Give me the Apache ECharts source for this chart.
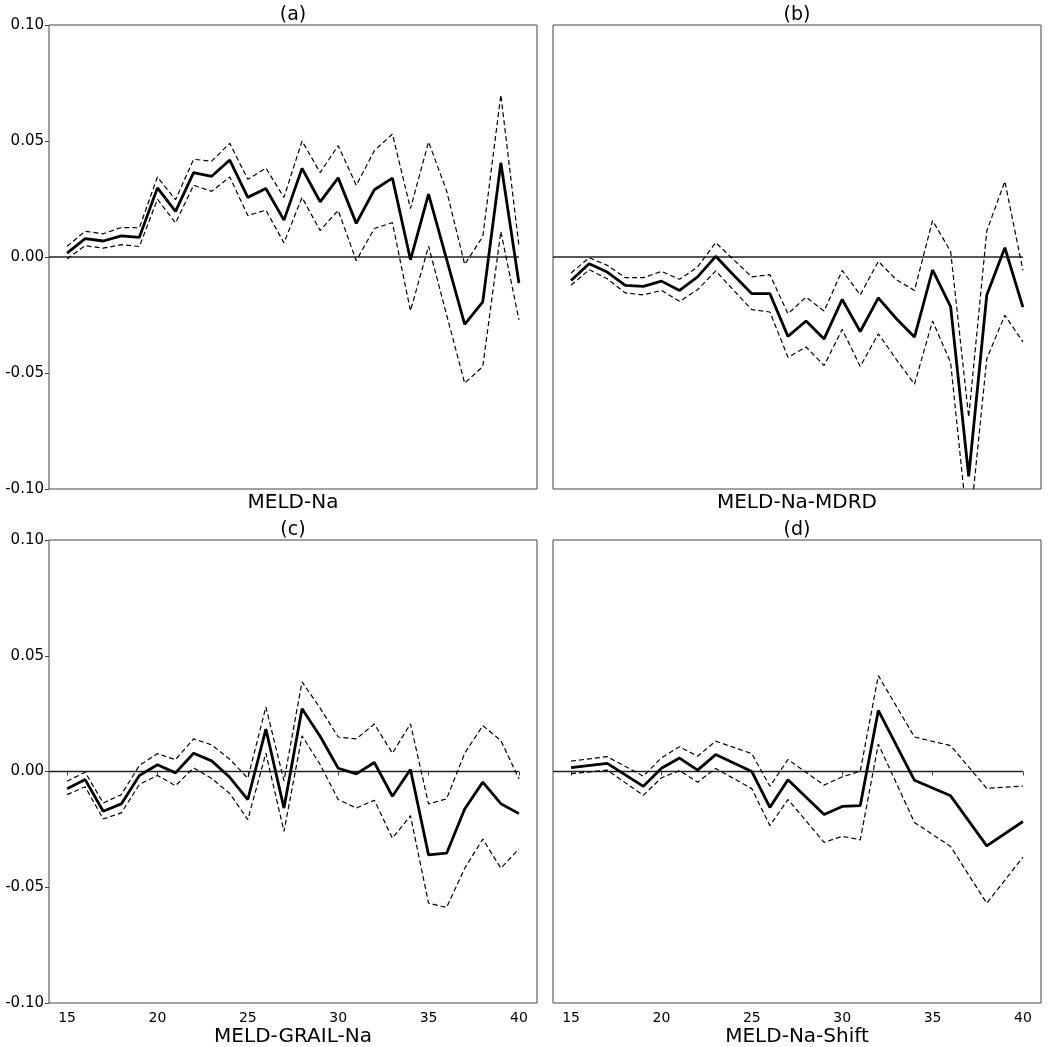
<!DOCTYPE html>
<html>
<head>
<meta charset="utf-8">
<script src="https://cdn.jsdelivr.net/npm/echarts@6/dist/echarts.min.js"></script>
<style>
  html, body { margin: 0; padding: 0; background: #fff; }
  #chart { width: 1050px; height: 1047px; }
</style>
</head>
<body>
<div id="chart"></div>
<script>
// x values (MELD score)
var xFull = [15, 16, 17, 18, 19, 20, 21, 22, 23, 24, 25, 26, 27, 28, 29, 30, 31, 32, 33, 34, 35, 36, 37, 38, 39, 40]
var xShift = [15, 17, 19, 20, 21, 22, 23, 25, 26, 27, 29, 30, 31, 32, 34, 36, 38, 40]
var xTicks = [15, 20, 25, 30, 35, 40]

// (a) MELD-Na
var naMid = [0.0017, 0.0079, 0.0069, 0.0091, 0.0085, 0.0298, 0.0197, 0.0364, 0.0348, 0.0418, 0.0257, 0.0295, 0.0159, 0.0382, 0.0238, 0.0341, 0.0145, 0.0290, 0.0340, -0.0012, 0.0271, -0.0010, -0.0290, -0.0193, 0.0406, -0.0112]
var naUp = [0.0046, 0.0111, 0.0100, 0.0127, 0.0126, 0.0345, 0.0247, 0.0421, 0.0413, 0.0490, 0.0335, 0.0383, 0.0257, 0.0500, 0.0364, 0.0480, 0.0309, 0.0458, 0.0530, 0.0209, 0.0496, 0.0285, -0.0032, 0.0088, 0.0699, 0.0048]
var naLo = [-0.0009, 0.0049, 0.0038, 0.0053, 0.0045, 0.0249, 0.0147, 0.0309, 0.0283, 0.0345, 0.0179, 0.0202, 0.0061, 0.0257, 0.0114, 0.0201, -0.0016, 0.0123, 0.0148, -0.0232, 0.0047, -0.0250, -0.0544, -0.0472, 0.0110, -0.0271]

// (b) MELD-Na-MDRD
var mdrdMid = [-0.0101, -0.0029, -0.0065, -0.0122, -0.0127, -0.0104, -0.0144, -0.0086, 0.0003, -0.0079, -0.0158, -0.0158, -0.0342, -0.0276, -0.0353, -0.0183, -0.0321, -0.0176, -0.0266, -0.0345, -0.0056, -0.0214, -0.0945, -0.0164, 0.0040, -0.0216]
var mdrdUp = [-0.0069, -0.0003, -0.0036, -0.0089, -0.0089, -0.0062, -0.0096, -0.0043, 0.0062, -0.0012, -0.0086, -0.0076, -0.0245, -0.0173, -0.0233, -0.0058, -0.0163, -0.0019, -0.0098, -0.0144, 0.0157, 0.0024, -0.0690, 0.0112, 0.0326, -0.0058]
var mdrdLo = [-0.0122, -0.0055, -0.0094, -0.0155, -0.0163, -0.0144, -0.0191, -0.0141, -0.0060, -0.0144, -0.0227, -0.0237, -0.0432, -0.0388, -0.0468, -0.0312, -0.0472, -0.0331, -0.0442, -0.0548, -0.0276, -0.0455, -0.1210, -0.0438, -0.0251, -0.0366]

// (c) MELD-GRAIL-Na
var grailMid = [-0.0074, -0.0035, -0.0172, -0.0140, -0.0017, 0.0029, -0.0006, 0.0079, 0.0046, -0.0025, -0.0121, 0.0183, -0.0158, 0.0271, 0.0152, 0.0014, -0.0010, 0.0039, -0.0107, 0.0009, -0.0360, -0.0353, -0.0162, -0.0046, -0.0139, -0.0182]
var grailUp = [-0.0042, -0.0003, -0.0136, -0.0100, 0.0026, 0.0077, 0.0051, 0.0141, 0.0115, 0.0053, -0.0029, 0.0279, -0.0040, 0.0387, 0.0274, 0.0149, 0.0141, 0.0205, 0.0079, 0.0206, -0.0140, -0.0118, 0.0079, 0.0198, 0.0134, -0.0032]
var grailLo = [-0.0100, -0.0066, -0.0205, -0.0179, -0.0056, -0.0017, -0.0061, 0.0016, -0.0030, -0.0095, -0.0208, 0.0079, -0.0259, 0.0154, 0.0030, -0.0121, -0.0158, -0.0124, -0.0288, -0.0191, -0.0569, -0.0587, -0.0418, -0.0292, -0.0418, -0.0334]

// (d) MELD-Na-Shift
var shiftMid = [0.0017, 0.0035, -0.0064, 0.0014, 0.0058, 0.0006, 0.0073, 0.0000, -0.0155, -0.0036, -0.0186, -0.0151, -0.0147, 0.0264, -0.0038, -0.0105, -0.0321, -0.0216]
var shiftUp = [0.0045, 0.0064, -0.0020, 0.0059, 0.0107, 0.0066, 0.0131, 0.0077, -0.0064, 0.0052, -0.0059, -0.0023, 0.0001, 0.0414, 0.0149, 0.0112, -0.0073, -0.0063]
var shiftLo = [-0.0009, 0.0006, -0.0103, -0.0027, 0.0004, -0.0046, 0.0013, -0.0074, -0.0234, -0.0121, -0.0306, -0.0280, -0.0295, 0.0118, -0.0220, -0.0324, -0.0569, -0.0370]

var FONT = 'DejaVu Sans'

function pairs (xs, ys) {
  return xs.map(function (x, i) { return [x, ys[i]] })
}

var panels = [
  { tag: '(a)', name: 'MELD-Na', x: xFull, mid: naMid, up: naUp, lo: naLo, left: 49, top: 25, h: 464, bottom: false, first: true },
  { tag: '(b)', name: 'MELD-Na-MDRD', x: xFull, mid: mdrdMid, up: mdrdUp, lo: mdrdLo, left: 553, top: 25, h: 464, bottom: false, first: false },
  { tag: '(c)', name: 'MELD-GRAIL-Na', x: xFull, mid: grailMid, up: grailUp, lo: grailLo, left: 49, top: 540, h: 463, bottom: true, first: true },
  { tag: '(d)', name: 'MELD-Na-Shift', x: xShift, mid: shiftMid, up: shiftUp, lo: shiftLo, left: 553, top: 540, h: 463, bottom: true, first: false }
]
var W = 488

var grid = [], xAxis = [], yAxis = [], series = [], graphic = []

panels.forEach(function (p, i) {
  grid.push({
    left: p.left, top: p.top, width: W, height: p.h,
    show: true, borderColor: '#444', borderWidth: 1, backgroundColor: 'transparent'
  })
  xAxis.push({
    type: 'value', gridIndex: i, min: 14, max: 41,
    axisLine: { show: false },
    splitLine: { show: false },
    axisTick: { show: p.bottom, length: 4, lineStyle: { color: '#444' }, customValues: xTicks },
    axisLabel: { show: p.bottom, customValues: xTicks, margin: 8, fontSize: 14, fontFamily: FONT, color: '#000' }
  })
  yAxis.push({
    type: 'value', gridIndex: i, min: -0.1, max: 0.1, interval: 0.05,
    axisLine: { show: false },
    splitLine: { show: false },
    axisTick: { show: p.first, length: 4, lineStyle: { color: '#444' } },
    axisLabel: {
      show: p.first, margin: 5, fontSize: 15, fontFamily: FONT, color: '#000',
      formatter: function (v) { return (Math.abs(v) < 1e-9 ? 0 : v).toFixed(2) }
    }
  })
  var common = { type: 'line', xAxisIndex: i, yAxisIndex: i, symbol: 'none', clip: true, animation: false, silent: true }
  series.push(Object.assign({}, common, {
    data: [[14, 0], [40, 0]], lineStyle: { color: '#222', width: 1.5 }
  }))
  series.push(Object.assign({}, common, {
    data: pairs(p.x, p.up), lineStyle: { color: '#000', width: 1.2, type: [5, 3] }
  }))
  series.push(Object.assign({}, common, {
    data: pairs(p.x, p.lo), lineStyle: { color: '#000', width: 1.2, type: [5, 3] }
  }))
  series.push(Object.assign({}, common, {
    data: pairs(p.x, p.mid), lineStyle: { color: '#000', width: 2.8 }
  }))
  var cx = p.left + W / 2
  graphic.push({
    type: 'text', x: cx, y: p.top - 10,
    style: { text: p.tag, fill: '#000', fontSize: 19, fontFamily: FONT, align: 'center', verticalAlign: 'middle' }
  })
  graphic.push({
    type: 'text', x: cx, y: p.bottom ? 1037 : 503,
    style: { text: p.name, fill: '#000', fontSize: 20, fontFamily: FONT, align: 'center', verticalAlign: 'middle' }
  })
})

var chart = echarts.init(document.getElementById('chart'), null, { renderer: 'canvas' })
chart.setOption({
  animation: false,
  backgroundColor: '#fff',
  textStyle: { fontFamily: FONT },
  grid: grid,
  xAxis: xAxis,
  yAxis: yAxis,
  series: series,
  graphic: graphic
})
</script>
</body>
</html>
